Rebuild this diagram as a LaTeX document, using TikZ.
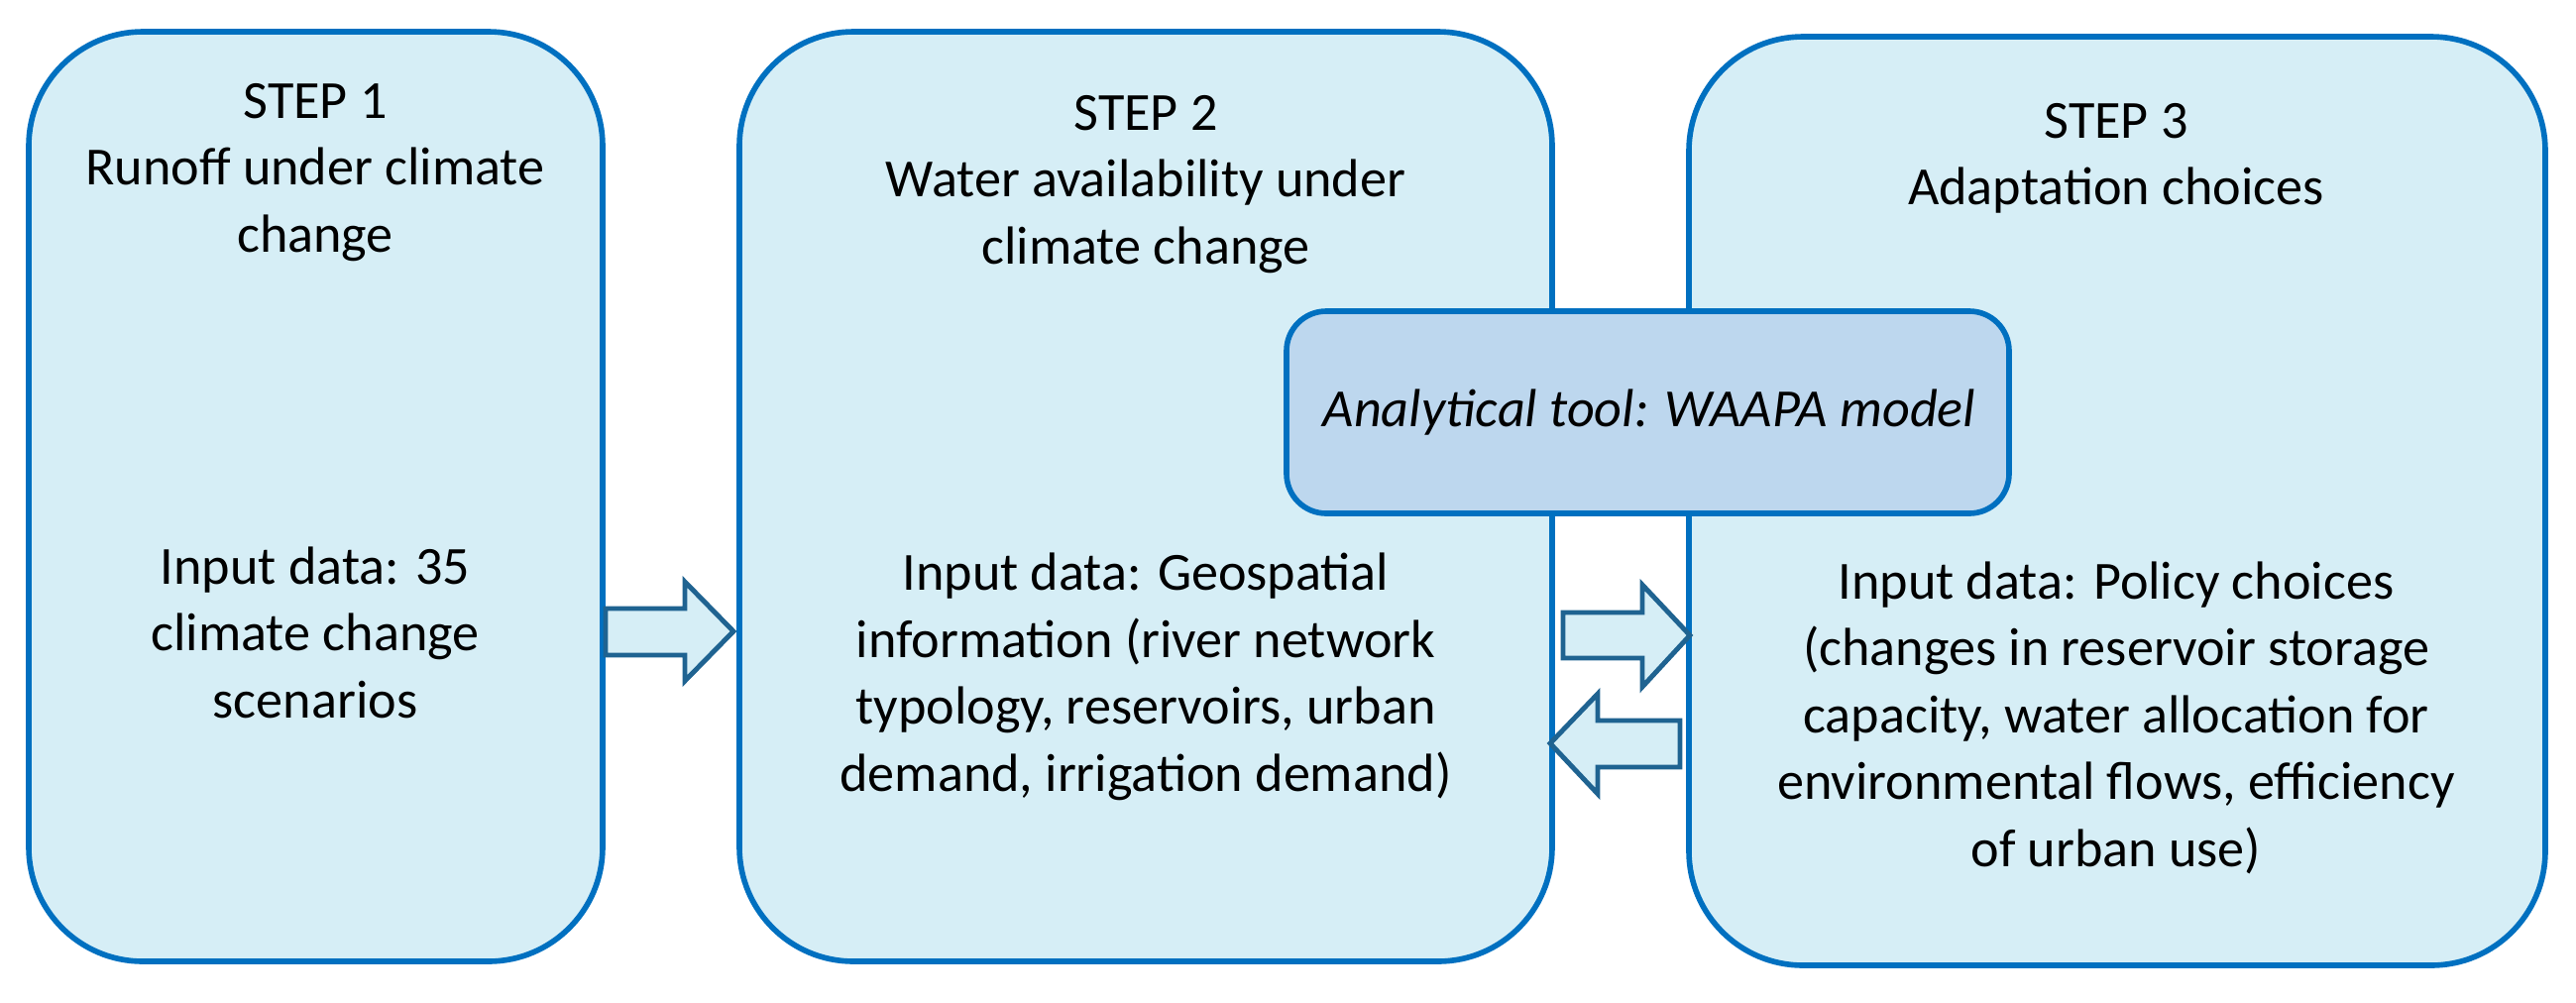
\documentclass[tikz,border=0pt]{standalone}
\usepackage{fontspec}
\setmainfont{Carlito}
\begin{document}
\begin{tikzpicture}[x=0.01cm,y=-0.01cm,
  stepbox/.style={draw=stepline,fill=stepfill,line width=1.6pt,rounded corners=1.15cm},
  tool/.style={draw=stepline,fill=toolfill,line width=1.6pt,rounded corners=0.4cm},
  blk/.style={draw=arrline,fill=stepfill,line width=1.4pt,line join=miter},
  txt/.style={align=center,font=\fontsize{15.4}{19.2}\selectfont,inner sep=0pt}]
\definecolor{stepline}{HTML}{0070C0}
\definecolor{stepfill}{HTML}{D6EEF6}
\definecolor{toolfill}{HTML}{BDD7EE}
\definecolor{arrline}{HTML}{1F6391}
\useasboundingbox (0,0) rectangle (2599,1011);
\draw[stepbox] (29,32) rectangle (608,970);
\draw[stepbox] (746,32) rectangle (1566,970);
\draw[stepbox] (1704,37) rectangle (2568,974);
\draw[tool] (1298,314) rectangle (2027,518);
\node[txt] (t1) at (318,174) {STEP 1\\Runoff under climate\\change};
\node[txt] (i1) at (318,638) {Input data: 35\\climate change\\scenarios};
\node[txt] (t2) at (1156,186) {STEP 2\\Water availability under\\climate change};
\node[txt] (i2) at (1156,683) {Input data: Geospatial\\information (river network\\typology, reservoirs, urban\\demand, irrigation demand)};
\node[txt] (t3) at (2135,160) {STEP 3\\Adaptation choices};
\node[txt] (i3) at (2135,724) {Input data: Policy choices\\(changes in reservoir storage\\capacity, water allocation for\\environmental flows, efficiency\\of urban use)};
\node[txt,font=\fontsize{15.4}{19.2}\selectfont\itshape] (tool) at (1664,416) {Analytical tool: WAAPA model};
\draw[blk] (611,614) -- (691,614) -- (691,587) -- (740,637) -- (691,687) -- (691,661) -- (611,661) -- cycle;
\draw[blk] (1577,618) -- (1657,618) -- (1657,590) -- (1705,641) -- (1657,693) -- (1657,664) -- (1577,664) -- cycle;
\draw[blk] (1695,727) -- (1612,727) -- (1612,700) -- (1564,750) -- (1612,801) -- (1612,774) -- (1695,774) -- cycle;
\end{tikzpicture}
\end{document}
